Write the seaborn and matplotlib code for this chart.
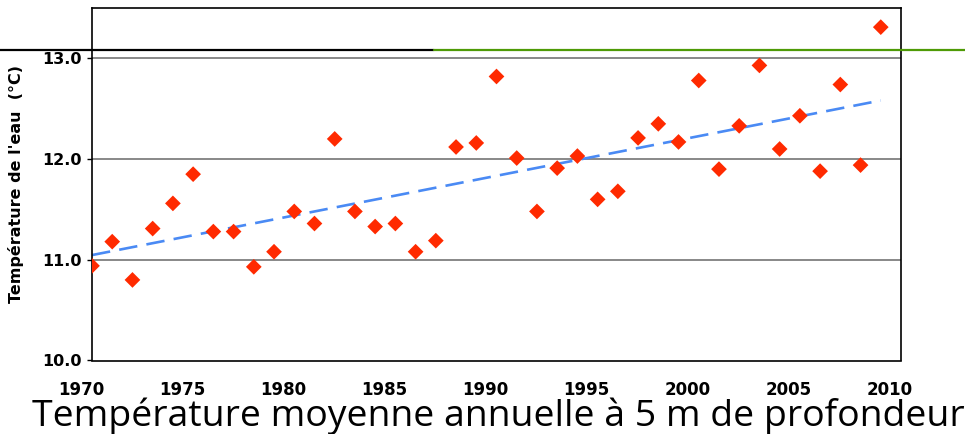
import numpy as np
import pandas as pd
import matplotlib
matplotlib.use("Agg")
import matplotlib.pyplot as plt
import matplotlib.transforms as mtransforms
from matplotlib.lines import Line2D
import seaborn as sns

# données : température moyenne annuelle de l'eau à 5 m
years = list(range(1970, 2010))
temps = [10.94, 11.18, 10.80, 11.31, 11.56, 11.85, 11.28, 11.28, 10.93, 11.08,
         11.48, 11.36, 12.20, 11.48, 11.33, 11.36, 11.08, 11.19, 12.12, 12.16,
         12.82, 12.01, 11.48, 11.91, 12.03, 11.60, 11.68, 12.21, 12.35, 12.17,
         12.78, 11.90, 12.33, 12.93, 12.10, 12.43, 11.88, 12.74, 11.94, 13.31]
x_ticks = [1970, 1975, 1980, 1985, 1990, 1995, 2000, 2005, 2010]
y_ticks = [10.0, 11.0, 12.0, 13.0]

df = pd.DataFrame({"annee": years, "temp": temps})

sns.set_style("white")
plt.rcParams["font.family"] = ["DejaVu Sans"]
plt.rcParams["text.color"] = "black"
plt.rcParams["xtick.color"] = "black"
plt.rcParams["ytick.color"] = "black"
plt.rcParams["axes.labelcolor"] = "black"

W, H = 965, 434
fig = plt.figure(figsize=(W / 100, H / 100), dpi=100)
ax = fig.add_axes([92 / W, (H - 360.5) / H, (901 - 92) / W, (360.5 - 8) / H])

# grille horizontale
for y in y_ticks[1:]:
    ax.axhline(y, color="#7f7f7f", lw=1.3, zorder=0)

# tendance linéaire
sns.regplot(data=df, x="annee", y="temp", scatter=False, ci=None, ax=ax,
            line_kws=dict(color="#4a8af4", lw=1.9, dashes=(7, 3.5)))
sns.scatterplot(data=df, x="annee", y="temp", marker="D", s=64, color="#ff2a00",
                edgecolor="none", ax=ax, zorder=3)

ax.set_xlim(1970, 2010)
ax.set_ylim(10.0, 13.5)
ax.set_xticks(x_ticks)
ax.set_xticklabels([str(t) for t in x_ticks], fontweight="bold", fontsize=12)
ax.set_yticks(y_ticks)
ax.set_yticklabels([f"{t:.1f}" for t in y_ticks], fontweight="bold", fontsize=11.5)
ax.tick_params(axis="x", length=0, pad=14.5)
ax.tick_params(axis="y", length=3.6, width=1, pad=3.6, direction="out", left=True)
offset = mtransforms.ScaledTranslation(-11 / 100, 0, fig.dpi_scale_trans)
for lab in ax.get_xticklabels():
    lab.set_transform(lab.get_transform() + offset)

ax.set_xlabel("")
ax.set_ylabel("Température de l'eau  (°C)", fontweight="bold", fontsize=11.5)
ax.yaxis.set_label_coords(-68 / (901 - 92), 0.5)
for sp in ax.spines.values():
    sp.set_visible(True)
    sp.set_color("black")
    sp.set_linewidth(1.2)

# trait décoratif de la diapositive
fig.add_artist(Line2D([0, 434 / W], [1 - 50 / H] * 2, color="black", lw=1.6,
                      transform=fig.transFigure))
fig.add_artist(Line2D([434 / W, 1], [1 - 50 / H] * 2, color="#4e9a06", lw=1.6,
                      transform=fig.transFigure))

fig.text(32 / W, (H - 426) / H, "Température moyenne annuelle à 5 m de profondeur",
         fontsize=26.9, family=["Open Sans", "DejaVu Sans"], va="baseline", ha="left")

fig.savefig("out.png", dpi=100)
